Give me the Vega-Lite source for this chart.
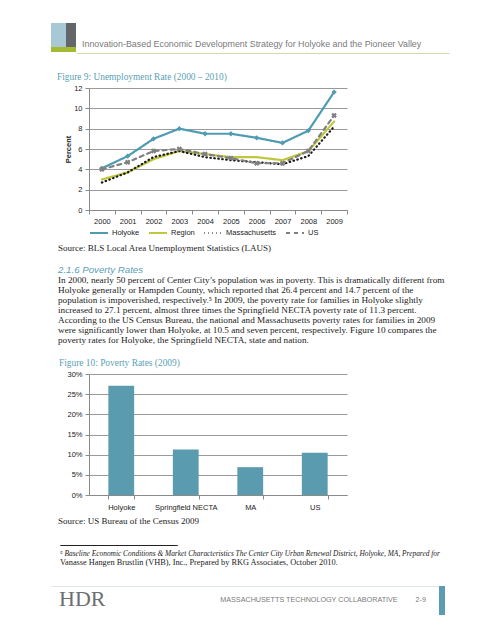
{
  "$schema": "https://vega.github.io/schema/vega-lite/v6.json",
  "background": "white",
  "padding": {"left": 50, "top": 23, "right": 5, "bottom": 5},
  "config": {
    "view": {"stroke": null},
    "font": "Liberation Sans",
    "axis": {"labelFont": "Liberation Sans", "labelFontSize": 7.5, "labelColor": "#222222", "domainColor": "#8a8a8a", "tickColor": "#8a8a8a", "gridColor": "#9a9a9a", "titleFont": "Liberation Sans"},
    "legend": {"labelFont": "Liberation Sans", "labelFontSize": 7.5, "labelColor": "#222222"},
    "title": {"anchor": "start", "fontWeight": "normal"}
  },
  "spacing": 17,
  "align": "each",
  "vconcat": [
    {
      "spacing": 0,
      "align": "each",
      "hconcat": [
        {
          "spacing": 0,
          "align": "each",
          "vconcat": [
            {
              "spacing": 0,
              "align": "each",
              "hconcat": [
                {"width": 15, "height": 24, "view": {"fill": "#a8c8d6", "stroke": null}, "data": {"values": []}, "mark": "rule", "encoding": {}},
                {"width": 10, "height": 24, "view": {"fill": "#63676a", "stroke": null}, "data": {"values": []}, "mark": "rule", "encoding": {}}
              ]
            },
            {"width": 25, "height": 5, "view": {"fill": "#a2bb31", "stroke": null}, "data": {"values": []}, "mark": "rule", "encoding": {}}
          ]
        },
        {
          "spacing": 0,
          "align": "each",
          "vconcat": [
            {
              "width": 372, "height": 29,
              "title": {"text": "Innovation-Based Economic Development Strategy for Holyoke and the Pioneer Valley", "font": "Liberation Sans", "fontSize": 8.9, "color": "#7a7a7a", "offset": -26, "dx": 5, "frame": "group"},
              "data": {"values": []}, "mark": "rule", "encoding": {}
            },
            {"width": 372, "height": 0.01, "view": {"stroke": "#d3d9a8", "fill": null}, "data": {"values": []}, "mark": "rule", "encoding": {}}
          ]
        }
      ]
    },
    {
      "spacing": 11,
      "align": "each",
      "vconcat": [
        {
          "title": {"text": "Source: BLS Local Area Unemployment Statistics (LAUS)", "orient": "bottom", "font": "Liberation Serif", "fontSize": 9, "color": "#1a1a1a", "offset": 7, "dx": 7},
          "vconcat": [
            {
              "title": {"text": "Figure 9: Unemployment Rate (2000 – 2010)", "font": "Liberation Serif", "fontSize": 9.4, "color": "#5b9fb5", "dx": 6, "offset": 2},
              "spacing": 0,
              "align": "each",
              "resolve": {"legend": {"color": "independent", "strokeDash": "independent"}},
              "hconcat": [
                {"width": 13, "height": 0.01, "data": {"values": []}, "mark": "rule", "encoding": {}},
                {
                  "width": 258, "height": 122,
                  "data": {"values": [
                    {"year": "2000", "series": "Holyoke", "value": 4.1},
                    {"year": "2001", "series": "Holyoke", "value": 5.3},
                    {"year": "2002", "series": "Holyoke", "value": 7.0},
                    {"year": "2003", "series": "Holyoke", "value": 8.0},
                    {"year": "2004", "series": "Holyoke", "value": 7.5},
                    {"year": "2005", "series": "Holyoke", "value": 7.5},
                    {"year": "2006", "series": "Holyoke", "value": 7.1},
                    {"year": "2007", "series": "Holyoke", "value": 6.6},
                    {"year": "2008", "series": "Holyoke", "value": 7.8},
                    {"year": "2009", "series": "Holyoke", "value": 11.6},
                    {"year": "2000", "series": "Region", "value": 3.0},
                    {"year": "2001", "series": "Region", "value": 3.7},
                    {"year": "2002", "series": "Region", "value": 5.0},
                    {"year": "2003", "series": "Region", "value": 5.8},
                    {"year": "2004", "series": "Region", "value": 5.5},
                    {"year": "2005", "series": "Region", "value": 5.2},
                    {"year": "2006", "series": "Region", "value": 5.2},
                    {"year": "2007", "series": "Region", "value": 4.9},
                    {"year": "2008", "series": "Region", "value": 5.8},
                    {"year": "2009", "series": "Region", "value": 8.7},
                    {"year": "2000", "series": "Massachusetts", "value": 2.7},
                    {"year": "2001", "series": "Massachusetts", "value": 3.7},
                    {"year": "2002", "series": "Massachusetts", "value": 5.2},
                    {"year": "2003", "series": "Massachusetts", "value": 5.8},
                    {"year": "2004", "series": "Massachusetts", "value": 5.2},
                    {"year": "2005", "series": "Massachusetts", "value": 4.9},
                    {"year": "2006", "series": "Massachusetts", "value": 4.7},
                    {"year": "2007", "series": "Massachusetts", "value": 4.5},
                    {"year": "2008", "series": "Massachusetts", "value": 5.3},
                    {"year": "2009", "series": "Massachusetts", "value": 8.2},
                    {"year": "2000", "series": "US", "value": 4.0},
                    {"year": "2001", "series": "US", "value": 4.7},
                    {"year": "2002", "series": "US", "value": 5.8},
                    {"year": "2003", "series": "US", "value": 6.0},
                    {"year": "2004", "series": "US", "value": 5.5},
                    {"year": "2005", "series": "US", "value": 5.1},
                    {"year": "2006", "series": "US", "value": 4.6},
                    {"year": "2007", "series": "US", "value": 4.6},
                    {"year": "2008", "series": "US", "value": 5.8},
                    {"year": "2009", "series": "US", "value": 9.3}
                  ]},
                  "encoding": {
                    "x": {"field": "year", "type": "ordinal", "bandPosition": 0.5, "scale": {"type": "band", "paddingInner": 0, "paddingOuter": 0}, "axis": {"title": null, "labelAngle": 0, "tickBand": "extent", "tickSize": 4, "labelPadding": 3}},
                    "y": {"field": "value", "type": "quantitative", "scale": {"domain": [0, 12]}, "axis": {"values": [0, 2, 4, 6, 8, 10, 12], "title": "Percent", "titleFontSize": 7.5, "titleFontWeight": "bold", "titleColor": "#222222", "tickSize": 4, "labelPadding": 3, "titlePadding": 1, "grid": true}}
                  },
                  "layer": [
                    {
                      "mark": {"type": "line", "strokeWidth": 2.2, "strokeCap": "round", "strokeJoin": "round"},
                      "encoding": {
                        "color": {"field": "series", "type": "nominal", "scale": {"domain": ["Holyoke", "Region", "Massachusetts", "US"], "range": ["#4f9cb2", "#c0c73b", "#1a1a1a", "#808080"]}, "legend": {"orient": "bottom", "direction": "horizontal", "title": null, "symbolType": "stroke", "symbolStrokeWidth": 2, "symbolSize": 324, "offset": -2, "columnPadding": 5, "labelOffset": 3}},
                        "strokeDash": {"field": "series", "type": "nominal", "scale": {"domain": ["Holyoke", "Region", "Massachusetts", "US"], "range": [[1, 0], [1, 0], [0.5, 3.5], [4, 4]]}}
                      }
                    },
                    {
                      "transform": [{"filter": "datum.series === 'Holyoke'"}],
                      "mark": {"type": "point", "shape": "diamond", "filled": true, "size": 28, "color": "#4f9cb2", "opacity": 1}
                    },
                    {
                      "transform": [{"filter": "datum.series === 'US'"}],
                      "mark": {"type": "point", "shape": "cross", "angle": 45, "filled": true, "size": 30, "color": "#808080", "opacity": 1}
                    }
                  ]
                }
              ]
            }
          ]
        },
        {
          "spacing": 18,
          "align": "each",
          "vconcat": [
            {
              "title": {"text": "Source:  US Bureau of the Census 2009", "orient": "bottom", "font": "Liberation Serif", "fontSize": 9, "color": "#1a1a1a", "offset": 6, "dx": 7},
              "vconcat": [
                {
                  "title": {
                    "text": "2.1.6  Poverty Rates",
                    "subtitle": [
                      "In 2000, nearly 50 percent of Center City’s population was in poverty. This is dramatically different from",
                      "Holyoke generally or Hampden County, which reported that 26.4 percent and 14.7 percent of the",
                      "population is impoverished, respectively.⁵ In 2009, the poverty rate for families in Holyoke slightly",
                      "increased to 27.1 percent, almost three times the Springfield NECTA poverty rate of 11.3 percent.",
                      "According to the US Census Bureau, the national and Massachusetts poverty rates for families in 2009",
                      "were significantly lower than Holyoke, at 10.5 and seven percent, respectively. Figure 10 compares the",
                      "poverty rates for Holyoke, the Springfield NECTA, state and nation."
                    ],
                    "font": "Liberation Sans", "fontStyle": "italic", "fontSize": 9.7, "color": "#5b9fb5",
                    "subtitleFont": "Liberation Serif", "subtitleFontSize": 9.2, "subtitleColor": "#1a1a1a", "subtitleLineHeight": 10, "subtitlePadding": 2,
                    "offset": 12, "dx": 7
                  },
                  "vconcat": [
                    {
                      "title": {"text": "Figure 10:  Poverty Rates (2009)", "font": "Liberation Serif", "fontSize": 9.4, "color": "#5b9fb5", "dx": 8, "offset": 2},
                      "spacing": 0,
                      "align": "each",
                      "hconcat": [
                        {"width": 15, "height": 0.01, "data": {"values": []}, "mark": "rule", "encoding": {}},
                        {
                          "width": 258, "height": 121,
                          "data": {"values": [
                            {"area": "Holyoke", "rate": 27.1},
                            {"area": "Springfield NECTA", "rate": 11.3},
                            {"area": "MA", "rate": 6.9},
                            {"area": "US", "rate": 10.5}
                          ]},
                          "mark": {"type": "bar", "color": "#5b9bb0"},
                          "encoding": {
                            "x": {"field": "area", "type": "nominal", "sort": null, "scale": {"paddingInner": 0.6, "paddingOuter": 0.3}, "axis": {"title": null, "labelAngle": 0, "tickBand": "extent", "tickSize": 4, "labelPadding": 4}},
                            "y": {"field": "rate", "type": "quantitative", "scale": {"domain": [0, 30]}, "axis": {"title": null, "values": [0, 5, 10, 15, 20, 25, 30], "labelExpr": "datum.value + '%'", "tickSize": 4, "labelPadding": 3, "grid": true}}
                          }
                        }
                      ]
                    }
                  ]
                }
              ]
            },
            {
              "spacing": 17,
              "align": "each",
              "vconcat": [
                {
                  "spacing": 0,
                  "align": "each",
                  "hconcat": [
                    {"width": 8, "height": 0.01, "data": {"values": []}, "mark": "rule", "encoding": {}},
                    {
                      "width": 117, "height": 0.01,
                      "view": {"stroke": "#222222", "fill": null},
                      "title": {"text": "⁵ Baseline Economic Conditions & Market Characteristics The Center City Urban Renewal District, Holyoke, MA, Prepared for", "subtitle": "Vanasse Hangen Brustlin (VHB), Inc., Prepared by RKG Associates, October 2010.", "orient": "bottom", "font": "Liberation Serif", "fontStyle": "italic", "fontSize": 7.4, "color": "#1a1a1a", "subtitleFont": "Liberation Serif", "subtitleFontSize": 8.3, "subtitleColor": "#1a1a1a", "subtitlePadding": 1, "offset": 5},
                      "data": {"values": []}, "mark": "rule", "encoding": {}
                    }
                  ]
                },
                {
                  "spacing": 0,
                  "align": "each",
                  "hconcat": [
                    {
                      "spacing": 0,
                      "align": "each",
                      "vconcat": [
                        {"width": 387, "height": 0.01, "view": {"stroke": "#dfe6ea", "fill": null}, "data": {"values": []}, "mark": "rule", "encoding": {}},
                        {
                          "spacing": 0,
                          "align": "each",
                          "hconcat": [
                            {
                              "width": 150, "height": 28,
                              "title": {"text": "HDR", "font": "Liberation Serif", "fontSize": 22, "color": "#6d6e71", "offset": -24, "dx": 8, "frame": "group"},
                              "data": {"values": []}, "mark": "rule", "encoding": {}
                            },
                            {
                              "width": 237, "height": 28,
                              "title": {"text": "MASSACHUSETTS TECHNOLOGY COLLABORATIVE\u00a0\u00a0\u00a0\u00a0\u00a0\u00a0\u00a0\u00a0\u00a02-9", "anchor": "end", "font": "Liberation Sans", "fontSize": 7.2, "color": "#7a7a7a", "offset": -16, "dx": -12, "frame": "group"},
                              "data": {"values": []}, "mark": "rule", "encoding": {}
                            }
                          ]
                        }
                      ]
                    },
                    {"width": 6, "height": 29, "view": {"fill": "#5b9cb0", "stroke": null}, "data": {"values": []}, "mark": "rule", "encoding": {}}
                  ]
                }
              ]
            }
          ]
        }
      ]
    }
  ]
}
